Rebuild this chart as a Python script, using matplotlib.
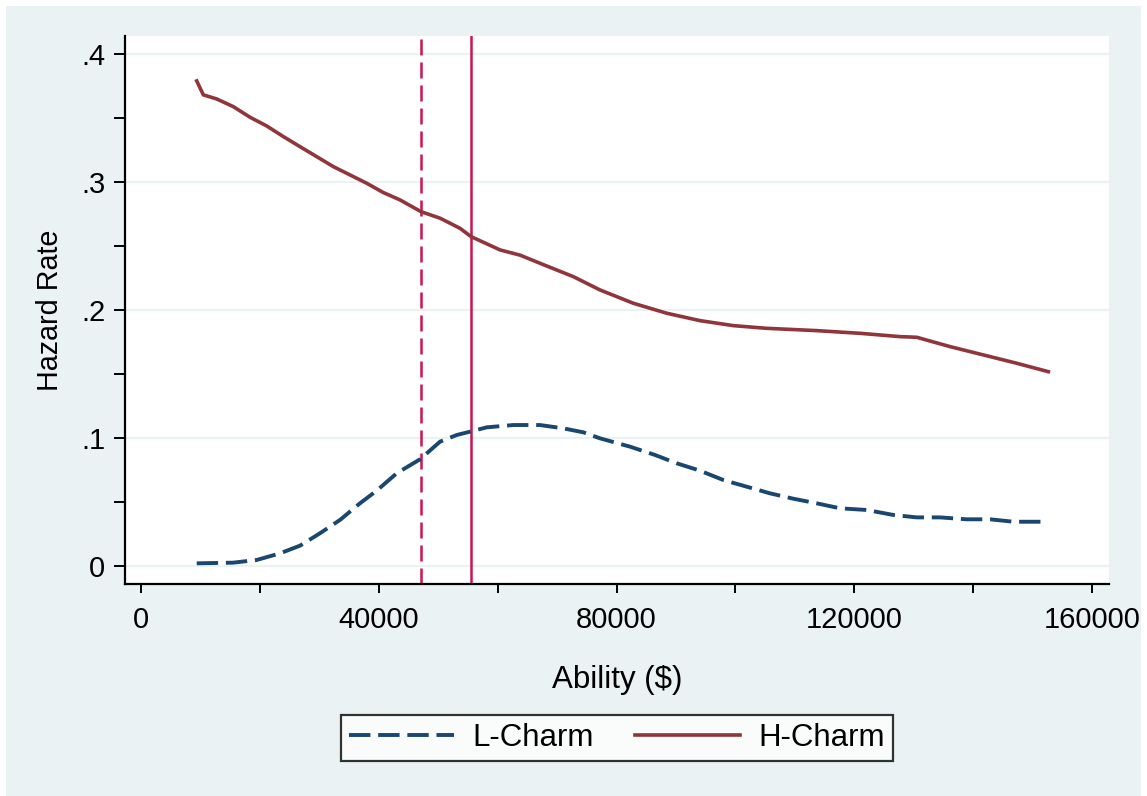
import matplotlib
matplotlib.use("Agg")
import matplotlib.pyplot as plt
from matplotlib.patches import Rectangle
from matplotlib.ticker import MultipleLocator, FixedLocator

plt.rcParams['font.family'] = ['Liberation Sans', 'DejaVu Sans']

# Data
l_x = [9330, 15440, 19430, 23350, 26720, 30080, 33450, 36810, 39630, 43000,
       46920, 50290, 53100, 55340, 58150, 62630, 67120, 71050, 74420, 77220,
       82270, 86480, 90130, 94060, 97990, 101920, 105840, 109770, 113700,
       117630, 122120, 126600, 130540, 134460, 138960, 142890, 146820, 152650]
l_y = [0.0021, 0.0026, 0.0047, 0.0099, 0.0159, 0.0256, 0.0360, 0.0490, 0.0589, 0.0725,
       0.0834, 0.0972, 0.1024, 0.1050, 0.1084, 0.1102, 0.1102, 0.1076, 0.1045, 0.0998,
       0.0933, 0.0868, 0.0803, 0.0745, 0.0672, 0.0620, 0.0568, 0.0526, 0.0490,
       0.0451, 0.0438, 0.0399, 0.0380, 0.0380, 0.0365, 0.0365, 0.0346, 0.0346]

h_x = [9330, 10440, 12690, 15490, 18300, 21110, 23910, 26720, 29530, 32330,
       35140, 37950, 40760, 43550, 47090, 50290, 53650, 55510, 60390, 63760,
       68000, 72730, 77220, 82830, 88450, 94060, 99670, 105290, 113700, 121000,
       127730, 130540, 136150, 141760, 147370, 152700]
h_y = [0.3792, 0.3683, 0.3651, 0.3591, 0.3508, 0.3440, 0.3357, 0.3278, 0.3200, 0.3122,
       0.3057, 0.2992, 0.2919, 0.2862, 0.2770, 0.2719, 0.2640, 0.2575, 0.2471, 0.2430,
       0.2350, 0.2262, 0.2158, 0.2054, 0.1976, 0.1918, 0.1879, 0.1858, 0.1840, 0.1819,
       0.1793, 0.1788, 0.1715, 0.1650, 0.1585, 0.1519]

vline_dashed = 47090
vline_solid = 55510

x_ticks = [0, 40000, 80000, 120000, 160000]
x_ticklabels = ["0", "40000", "80000", "120000", "160000"]
y_ticks = [0, 0.1, 0.2, 0.3, 0.4]
y_ticklabels = ["0", ".1", ".2", ".3", ".4"]

W, H = 1147, 796
fig = plt.figure(figsize=(W / 100, H / 100), dpi=100)
fig.patch.set_facecolor("white")
fig.patches.append(Rectangle((6 / W, 0), (1141 - 6) / W, (796 - 6) / H,
                             transform=fig.transFigure, facecolor="#EAF2F3",
                             edgecolor="none", zorder=-10))

left, right, top, bottom = 124.7, 1109.3, 36, 584
ax = fig.add_axes([left / W, 1 - bottom / H, (right - left) / W, (bottom - top) / H])
ax.set_facecolor("white")

ax.set_xlim(-2795, 162963)
ax.set_ylim(-0.01407, 0.41431)

for y in y_ticks:
    ax.axhline(y, color="#EAF2F3", lw=1.6, zorder=1)

ax.axvline(vline_dashed, color="#CC1450", lw=1.8, ls=(0, (6.4, 2.8)), zorder=2)
ax.axvline(vline_solid, color="#CC1450", lw=1.8, zorder=2)

ax.plot(l_x, l_y, color="#1A476F", lw=2.8, ls=(0, (5.5, 2.0)), label="L-Charm", zorder=3)
ax.plot(h_x, h_y, color="#90353B", lw=2.6, label="H-Charm", zorder=3)

ax.spines["top"].set_visible(False)
ax.spines["right"].set_visible(False)
ax.spines["left"].set_linewidth(1.6)
ax.spines["bottom"].set_linewidth(1.6)

ax.xaxis.set_major_locator(FixedLocator(x_ticks))
ax.set_xticklabels(x_ticklabels)
ax.xaxis.set_minor_locator(MultipleLocator(20000))
ax.yaxis.set_major_locator(FixedLocator(y_ticks))
ax.set_yticklabels(y_ticklabels)
ax.yaxis.set_minor_locator(MultipleLocator(0.05))

ax.tick_params(axis="x", which="both", length=6.5, width=1.4, direction="out",
               labelsize=21, pad=9)
ax.tick_params(axis="y", which="both", length=8, width=1.4, direction="out",
               labelsize=21, pad=6)

ax.set_xlabel("Ability ($)", fontsize=22.5, labelpad=23)
ax.set_ylabel("Hazard Rate", fontsize=20.7, labelpad=12)

leg = fig.legend(loc="center", bbox_to_anchor=(617 / W, 1 - 738 / H), ncol=2,
                 fontsize=22.5, frameon=True, fancybox=False, edgecolor="black",
                 handlelength=3.36, columnspacing=1.3, handletextpad=0.6,
                 borderpad=0.25)
leg.get_frame().set_linewidth(1.6)
leg.get_frame().set_facecolor("white")

fig.savefig("out.png", dpi=100, facecolor=fig.get_facecolor())
